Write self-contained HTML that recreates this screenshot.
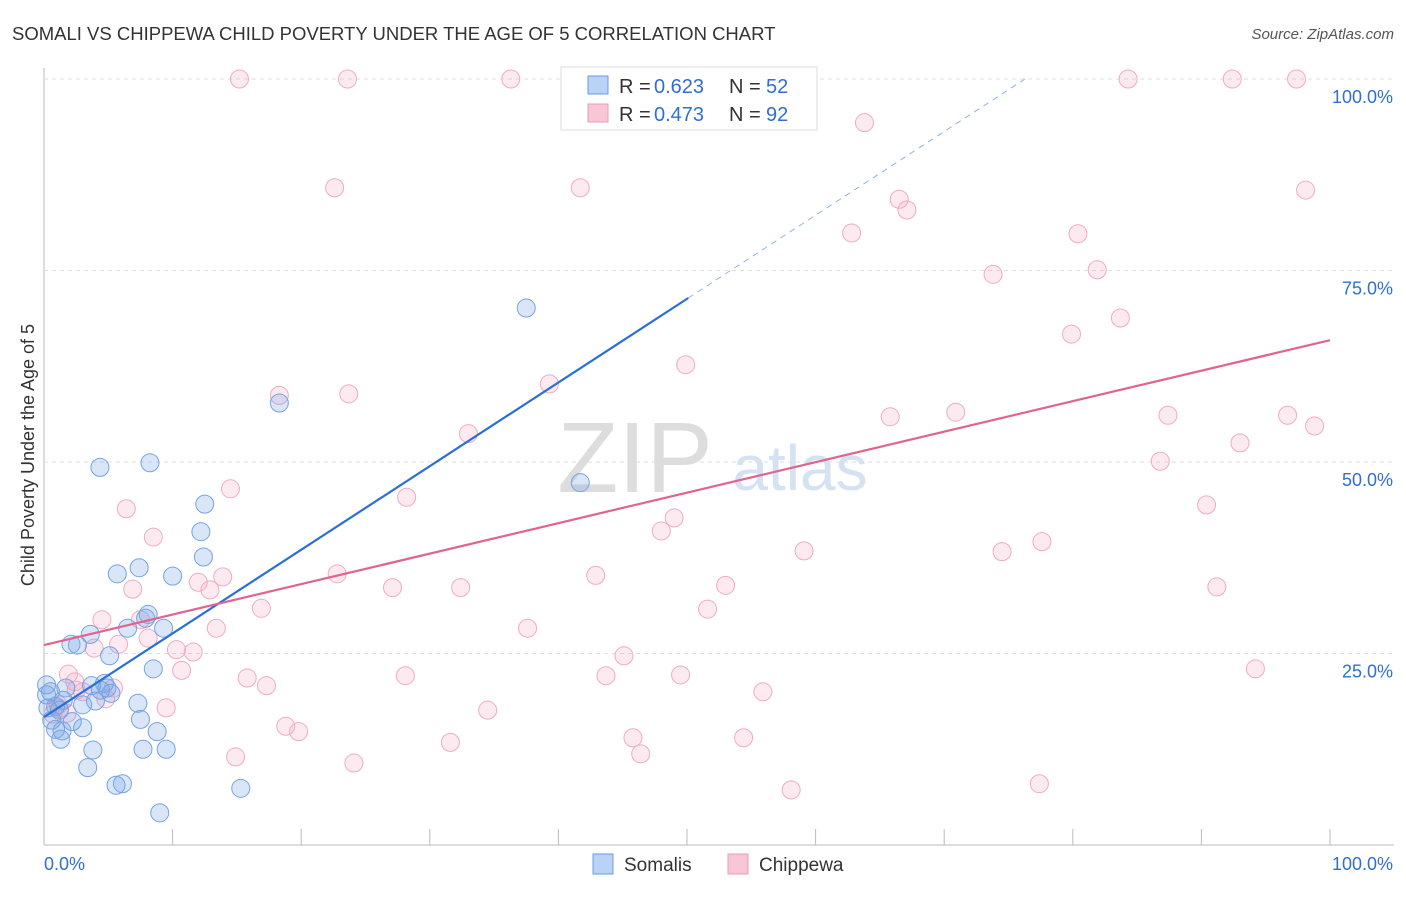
<!DOCTYPE html>
<html><head><meta charset="utf-8"><style>
body{margin:0;background:#fff;font-family:"Liberation Sans",sans-serif;}
svg text{font-family:"Liberation Sans",sans-serif;}
</style></head><body>
<svg id="c" width="1406" height="892">
<text x="12" y="40" font-size="18.5" fill="#333">SOMALI VS CHIPPEWA CHILD POVERTY UNDER THE AGE OF 5 CORRELATION CHART</text>
<text x="1394" y="39" font-size="15" fill="#555" font-style="italic" text-anchor="end">Source: ZipAtlas.com</text>
<text x="635" y="492" font-size="100" fill="#ddd" font-family="Liberation Serif" text-anchor="middle">ZIP</text>
<text x="800" y="490" font-size="64" fill="#d4e2f4" text-anchor="middle">atlas</text>
<text transform="translate(34,455) rotate(-90)" font-size="18" fill="#333" text-anchor="middle">Child Poverty Under the Age of 5</text>
<g id="grid"></g><g id="pts"></g><g id="lines"></g>
<g>
<rect x="561" y="67" width="256" height="63" fill="#fff" stroke="#ddd"/>
<rect x="588" y="76" width="20" height="18" fill="#b8d3f5" stroke="#6a9be0"/>
<rect x="588" y="104" width="20" height="18" fill="#f9c6d6" stroke="#e89ab4"/>
<text x="619" y="93" font-size="20" fill="#333">R =</text>
<text x="654" y="93" font-size="20" fill="#2f6fd3">0.623</text>
<text x="729" y="93" font-size="20" fill="#333">N =</text>
<text x="766" y="93" font-size="20" fill="#2f6fd3">52</text>
<text x="619" y="121" font-size="20" fill="#333">R =</text>
<text x="654" y="121" font-size="20" fill="#2f6fd3">0.473</text>
<text x="729" y="121" font-size="20" fill="#333">N =</text>
<text x="766" y="121" font-size="20" fill="#2f6fd3">92</text>
</g>
<g>
<rect x="593" y="854" width="20" height="20" fill="#b8d3f5" stroke="#6a9be0"/>
<text x="624" y="871" font-size="19" fill="#333">Somalis</text>
<rect x="728" y="854" width="20" height="20" fill="#f9c6d6" stroke="#e89ab4"/>
<text x="759" y="871" font-size="19" fill="#333">Chippewa</text>
</g>
</svg>
<script>
const yTicks=[25,50,75,100];
const yTickLabels=["25.0%","50.0%","75.0%","100.0%"];
const xTicks=[0,10,20,30,40,50,60,70,80,90,100];
const somaliX=[4.35,8.24,12.5,12.2,12.4,5.7,7.4,10.0,8.1,6.5,9.3,3.6,2.1,2.6,5.1,8.5,0.2,0.5,1.7,3.7,4.7,4.4,5.2,7.3,3.0,4.0,0.9,0.3,1.2,7.5,2.2,3.0,0.9,1.4,1.3,3.8,7.7,9.5,8.8,3.4,5.6,6.1,9.0,15.3,18.3,37.5,41.7,7.9,0.2,1.5,4.9,0.6];
const somaliY=[49.3,49.9,44.5,40.9,37.6,35.4,36.2,35.1,30.1,28.3,28.3,27.5,26.2,26.1,24.7,23.0,20.9,20.0,20.5,20.8,21.1,20.2,19.8,18.5,18.3,18.8,18.1,17.9,17.6,16.4,16.1,15.3,15.1,14.9,13.8,12.4,12.5,12.5,14.8,10.1,7.8,8.0,4.2,7.4,57.7,70.1,47.3,29.6,19.6,18.9,20.5,16.3];
const chipX=[15.2,23.6,36.3,84.3,92.4,97.4,63.8,22.6,41.7,98.1,66.5,67.1,62.8,80.4,73.8,81.9,83.7,79.9,49.9,18.3,23.7,39.3,33.0,65.8,70.9,87.4,96.7,98.8,93.0,86.8,14.5,28.2,90.4,6.4,49.0,48.0,8.5,59.1,74.5,77.6,13.9,12.0,22.8,42.9,53.0,27.1,32.4,91.2,6.9,12.9,16.9,51.6,4.5,7.5,13.4,37.6,8.1,5.8,3.9,10.3,11.6,45.1,94.2,1.9,10.7,2.4,28.1,43.7,49.5,15.8,17.3,3.0,55.9,4.8,9.5,0.7,1.2,34.5,18.8,19.8,45.8,54.4,31.6,14.9,46.4,24.1,58.1,77.4,1.1,2.5,5.4,1.8];
const chipY=[100,100,100,100,100,100,94.3,85.8,85.8,85.5,84.3,82.9,79.9,79.8,74.5,75.1,68.8,66.7,62.7,58.7,58.9,60.2,53.7,55.9,56.5,56.1,56.1,54.7,52.5,50.1,46.5,45.4,44.4,43.9,42.7,41.0,40.2,38.4,38.3,39.6,35.0,34.3,35.4,35.2,33.9,33.6,33.6,33.7,33.4,33.3,30.9,30.8,29.4,29.4,28.3,28.3,27.0,26.2,25.7,25.5,25.2,24.7,23.0,22.3,22.8,21.3,22.1,22.1,22.2,21.8,20.8,20.0,20.0,19.1,17.9,17.1,17.8,17.6,15.5,14.8,14.0,14.0,13.4,11.5,11.9,10.7,7.2,8.0,18.3,20.2,20.5,17.2];
const somaliFit=[16.7,1.092];
const chipFit=[26.1,0.398];
const NS='http://www.w3.org/2000/svg';
const X=v=>44+v*12.86, Y=v=>845-v*7.66;
function mk(t,a,p){const e=document.createElementNS(NS,t);for(const k in a)e.setAttribute(k,a[k]);p.appendChild(e);return e;}
const grid=document.getElementById('grid');
const ax=mk('line',{x1:44,y1:68,x2:44,y2:845,stroke:'#bbb'},grid);


const bx=mk('line',{x1:44,y1:845,x2:1394,y2:845,stroke:'#bbb'},grid);


yTicks.forEach((t,i)=>{
 const g=mk('line',{x1:44,y1:Y(t),x2:1394,y2:Y(t),stroke:'#ddd','stroke-dasharray':'4,4'},grid);
 
 
 const l=mk('text',{x:1393,y:Y(t)+24,'font-size':18,fill:'#2f6fd3','text-anchor':'end'},grid);
 l.textContent=yTickLabels[i];
 
 
});
xTicks.forEach(t=>{
 const k=mk('line',{x1:X(t),y1:829,x2:X(t),y2:845,stroke:'#bbb'},grid);
 
 
});
const x0=mk('text',{x:44,y:870,'font-size':18,fill:'#2f6fd3'},grid);x0.textContent='0.0%';


const x1=mk('text',{x:1393,y:870,'font-size':18,fill:'#2f6fd3','text-anchor':'end'},grid);x1.textContent='100.0%';


const pts=document.getElementById('pts');
chipX.forEach((v,i)=>{const c=mk('circle',{cx:X(v),cy:Y(chipY[i]),r:9,fill:'rgba(244,170,195,0.25)',stroke:'#eeacc3','stroke-width':1},pts);
 
 });
somaliX.forEach((v,i)=>{const c=mk('circle',{cx:X(v),cy:Y(somaliY[i]),r:9,fill:'rgba(120,165,230,0.28)',stroke:'#77a3e3','stroke-width':1},pts);
 
 });
const lines=document.getElementById('lines');
const xs=Math.max(...somaliX);
const xSolid=xs+8.4;
const xEnd=(100-somaliFit[0])/somaliFit[1];
const s1=mk('line',{x1:X(0),y1:Y(somaliFit[0]),x2:X(xSolid),y2:Y(somaliFit[0]+somaliFit[1]*xSolid),stroke:'#2a6fd6','stroke-width':2.2},lines);


const s2=mk('line',{x1:X(xSolid),y1:Y(somaliFit[0]+somaliFit[1]*xSolid),x2:X(xEnd),y2:Y(100),stroke:'#8fb3e8','stroke-width':1,'stroke-dasharray':'6,5'},lines);


const c1=mk('line',{x1:X(0),y1:Y(chipFit[0]),x2:X(100),y2:Y(chipFit[0]+chipFit[1]*100),stroke:'#e0648f','stroke-width':2.2},lines);


</script>
</body></html>
